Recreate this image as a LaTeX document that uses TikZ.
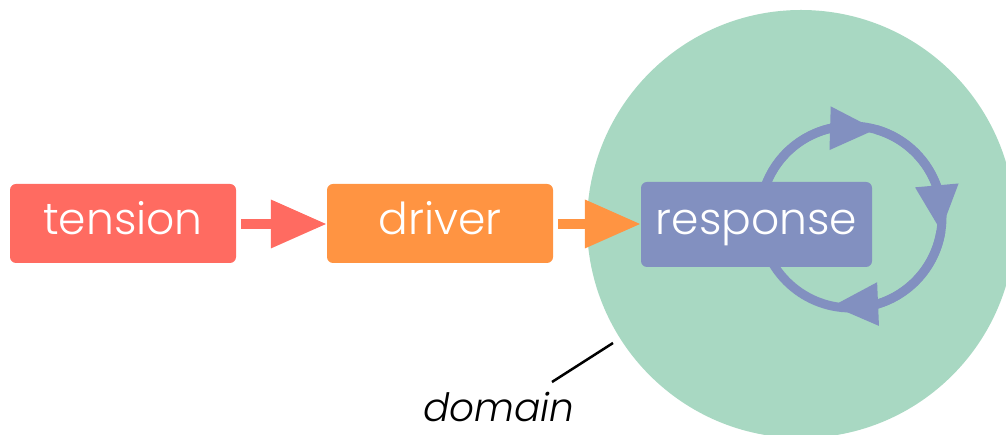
\documentclass[tikz,border=0pt]{standalone}
\usepackage{fontspec}
\setmainfont{Poppins Light}[ItalicFont={Poppins Light Italic}]
\usetikzlibrary{arrows.meta,bending,calc}
\definecolor{tensioncol}{RGB}{255,107,97}
\definecolor{drivercol}{RGB}{255,148,66}
\definecolor{responsecol}{RGB}{130,144,192}
\definecolor{domaincol}{RGB}{168,216,194}
\tikzset{
  stage/.style={rounded corners=6pt, inner sep=0pt, text=white, text depth=0pt,
    font=\fontsize{44}{44}\selectfont},
  flow/.style={line width=10pt, shorten <=5pt,
    -{Triangle[length=56pt,width=46pt]}},
  ring/.style={line width=9pt, draw=responsecol},
  ringtip/.style={ring, -{Triangle[length=46pt,width=41pt,flex]}},
}
\begin{document}
\begin{tikzpicture}[x=1pt,y=1pt]
\useasboundingbox (0,0) rectangle (1006,435);
\begin{scope}
  \clip (0,0) rectangle (1006,435);
  % domain of the response
  \node[circle, fill=domaincol, minimum size=428pt, inner sep=0pt] (dom) at (801,211) {};
\end{scope}

% feedback loop around the response
\coordinate (lc) at (851,218);
\draw[ring] (lc) circle[radius=91];
\draw[ringtip] ($(lc)+(200:91)$) arc[start angle=200, end angle=74, radius=91];
\draw[ringtip] ($(lc)+(74:91)$) arc[start angle=74, end angle=-9, radius=91];
\draw[ringtip] ($(lc)+(-9:91)$) arc[start angle=-9, end angle=-102, radius=91];

% stages
\node[stage, fill=tensioncol, minimum width=226pt, minimum height=79pt, text height=23pt] (tension) at (123,211.5) {tension};
\node[stage, fill=drivercol, minimum width=226pt, minimum height=79pt, text height=23pt] (driver) at (440,211.5) {driver};
\node[stage, fill=responsecol, minimum width=231pt, minimum height=85pt, text height=21pt] (response) at (756.5,210.5) {response};

\draw[flow, tensioncol] (tension.east |- 0,211) -- (driver.west |- 0,211);
\draw[flow, drivercol] (driver.east |- 0,211) -- (response.west |- 0,211);

% label of the domain
\node[anchor=base, font=\fontsize{39}{39}\selectfont\itshape, inner sep=0pt] (domlabel) at (499,13) {domain};
\coordinate (lblend) at (552,53);
\coordinate (domend) at (613,92);
\draw[line width=2.5pt] (lblend) -- (domend);
\end{tikzpicture}
\end{document}
